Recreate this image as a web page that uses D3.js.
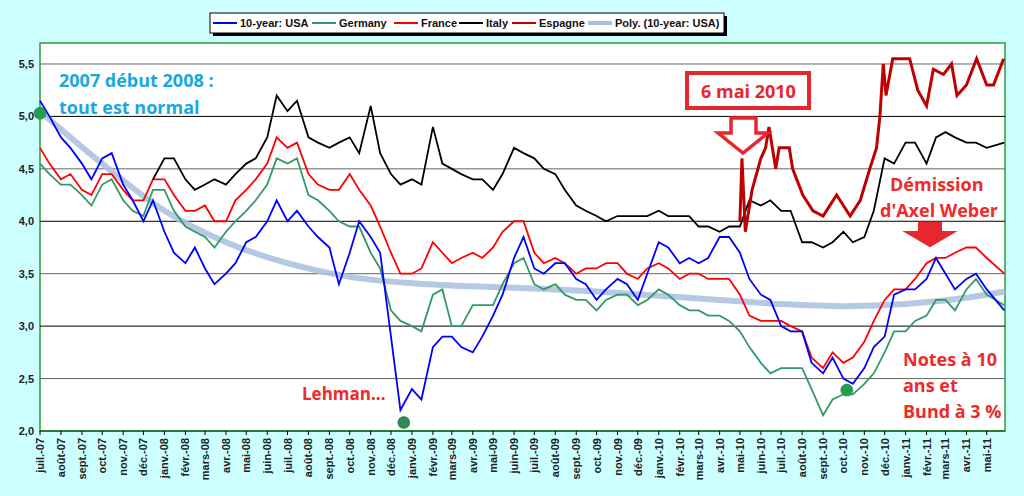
<!DOCTYPE html>
<html lang="fr">
<head>
<meta charset="utf-8" />
<script src="https://cdn.jsdelivr.net/npm/d3@7"></script>
<style>
  body { margin:0; background:#ccffff; }
  svg { display:block; }
</style>
</head>
<body>
<script>
  // DATA : taux à 10 ans, un point au 1er et au 15 de chaque mois
  var monthNames = ["janv.","févr.","mars","avr.","mai","juin","juil.","août","sept.","oct.","nov.","déc."];

  var usa = [5.15,5.0, 4.8,4.7, 4.55,4.4, 4.6,4.65, 4.35,4.2, 4.0,4.2,
    3.9,3.7, 3.6,3.75, 3.55,3.4, 3.5,3.6, 3.8,3.85, 4.0,4.2, 4.0,4.1, 3.95,3.85, 3.75,3.4, 3.7,4.0, 3.85,3.7, 2.9,2.2,
    2.4,2.3, 2.8,2.9, 2.9,2.8, 2.75,2.9, 3.1,3.3, 3.65,3.85, 3.55,3.5, 3.6,3.6, 3.45,3.4, 3.25,3.35, 3.45,3.4, 3.25,3.5,
    3.8,3.75, 3.6,3.65, 3.6,3.65, 3.85,3.85, 3.7,3.45, 3.3,3.25, 3.0,2.95, 2.95,2.65, 2.55,2.7, 2.5,2.45, 2.6,2.8, 2.9,3.3,
    3.35,3.35, 3.45,3.65, 3.5,3.35, 3.45,3.5, 3.35,3.15, 3.15];
  var germany = [4.55,4.45, 4.35,4.35, 4.25,4.15, 4.35,4.4, 4.2,4.1, 4.05,4.3,
    4.3,4.1, 3.95,3.9, 3.85,3.75, 3.9,4.0, 4.1,4.2, 4.35,4.6, 4.55,4.6, 4.25,4.2, 4.1,4.0, 3.95,3.95, 3.7,3.55, 3.15,3.05,
    3.0,2.95, 3.3,3.35, 3.0,3.0, 3.2,3.2, 3.2,3.4, 3.6,3.65, 3.4,3.35, 3.4,3.3, 3.25,3.25, 3.15,3.25, 3.3,3.3, 3.2,3.25,
    3.35,3.3, 3.2,3.15, 3.15,3.1, 3.1,3.05, 2.95,2.8, 2.65,2.55, 2.6,2.6, 2.6,2.4, 2.15,2.3, 2.35,2.35, 2.45,2.55, 2.75,2.95,
    2.95,3.05, 3.1,3.25, 3.25,3.15, 3.35,3.45, 3.3,3.2, 3.0];
  var france = [4.7,4.55, 4.4,4.45, 4.3,4.25, 4.45,4.45, 4.3,4.2, 4.2,4.4,
    4.4,4.25, 4.1,4.1, 4.15,4.0, 4.0,4.2, 4.3,4.4, 4.55,4.8, 4.7,4.75, 4.45,4.35, 4.3,4.3, 4.45,4.3, 4.15,3.95, 3.7,3.5,
    3.5,3.55, 3.8,3.7, 3.6,3.65, 3.7,3.65, 3.75,3.9, 4.0,4.0, 3.7,3.6, 3.65,3.6, 3.5,3.55, 3.55,3.6, 3.6,3.5, 3.45,3.55,
    3.6,3.55, 3.45,3.5, 3.5,3.45, 3.45,3.45, 3.3,3.1, 3.05,3.05, 3.05,3.0, 2.95,2.7, 2.6,2.75, 2.65,2.7, 2.85,3.05, 3.25,3.35,
    3.35,3.45, 3.6,3.65, 3.65,3.7, 3.75,3.75, 3.65,3.5, 3.45];
  var italy = [null,null, null,null, null,null, null,null, null,null, null,4.4,
    4.6,4.6, 4.4,4.3, 4.35,4.4, 4.35,4.45, 4.55,4.6, 4.8,5.2, 5.05,5.15, 4.8,4.75, 4.7,4.75, 4.8,4.65, 5.1,4.65, 4.45,4.35,
    4.4,4.35, 4.9,4.55, 4.5,4.45, 4.4,4.4, 4.3,4.45, 4.7,4.65, 4.6,4.5, 4.45,4.3, 4.15,4.1, 4.05,4.0, 4.05,4.05, 4.05,4.05,
    4.1,4.05, 4.05,4.05, 3.95,3.95, 3.9,3.95, 3.95,4.2, 4.15,4.2, 4.1,4.1, 3.8,3.8, 3.75,3.8, 3.9,3.8, 3.85,4.1, 4.6,4.55,
    4.75,4.75, 4.55,4.8, 4.85,4.8, 4.75,4.75, 4.7,4.75, 4.8];

  var spainDates = ["2010-05-01","2010-05-04","2010-05-09","2010-05-19","2010-06-01","2010-06-08","2010-06-13","2010-06-23",
    "2010-06-28","2010-07-13","2010-07-18","2010-08-02","2010-08-17","2010-09-01","2010-09-21","2010-10-11","2010-10-26",
    "2010-11-09","2010-11-19","2010-11-24","2010-11-29","2010-12-03","2010-12-13","2011-01-07","2011-01-19","2011-02-01",
    "2011-02-11","2011-02-26","2011-03-10","2011-03-18","2011-04-01","2011-04-16","2011-05-01","2011-05-11","2011-05-26"];
  var spain = [4.0,4.6,3.9,4.3,4.6,4.7,4.9,4.5,4.7,4.7,4.5,4.25,4.1,4.05,4.25,4.05,4.2,
    4.5,4.7,5.0,5.5,5.2,5.55,5.55,5.25,5.1,5.45,5.4,5.5,5.2,5.3,5.55,5.3,5.3,5.55];

  var polyDates = ["2007-07-01","2007-10-01","2008-01-01","2008-04-01","2008-07-01","2008-10-01","2009-01-01","2009-04-01",
    "2009-07-01","2009-10-01","2010-01-01","2010-04-01","2010-07-01","2010-10-01","2011-01-01","2011-04-01","2011-05-28"];
  var poly = [5.05,4.55,4.1,3.8,3.6,3.47,3.41,3.38,3.36,3.33,3.29,3.25,3.21,3.19,3.21,3.27,3.33];

  var seriesNames = ["10-year: USA","Germany","France","Italy","Espagne","Poly. (10-year: USA)"];
  var seriesColors = ["#0000ff","#339966","#ff0000","#000000","#c00000","#a9bfdf"];

  // dates semi-mensuelles (1er et 15)
  var dates = [];
  d3.timeMonth.range(new Date(2007,6,1), new Date(2011,5,1)).forEach(function(m){
    dates.push(m); dates.push(new Date(m.getFullYear(), m.getMonth(), 15));
  });
  dates.pop(); dates.push(new Date(2011,4,27));

  var width = 1024, height = 496;
  var pLeft = 40, pRight = 1005, pTop = 43, pBottom = 431;
  var parse = d3.timeParse("%Y-%m-%d");

  var svg = d3.select("body").append("svg").attr("width", width).attr("height", height);

  var x = d3.scaleTime().domain([new Date(2007,6,1), new Date(2011,4,28)]).range([pLeft, pRight]);
  var y = d3.scaleLinear().domain([2.0, 5.7]).range([pBottom, pTop]);

  svg.append("rect").attr("x", pLeft).attr("y", pTop).attr("width", pRight-pLeft).attr("height", pBottom-pTop)
     .attr("fill", "#fff").attr("stroke", "#2e9a3a").attr("stroke-width", 1.5);

  // grid
  var yTicks = d3.range(2.0, 5.51, 0.5);
  svg.selectAll(".grid").data(yTicks).enter().append("line")
     .attr("x1", pLeft).attr("x2", pRight).attr("y1", y).attr("y2", y)
     .attr("stroke", function(d){ return Math.round(d*2)%2===0 ? "#000" : "#666"; }).attr("stroke-width", 1);
  svg.selectAll(".ylab").data(yTicks).enter().append("text")
     .attr("x", pLeft-6).attr("y", function(d){ return y(d)+4; })
     .attr("text-anchor", "end").attr("font-family", "Arial, Liberation Sans").attr("font-weight", "bold")
     .attr("font-size", 11).attr("fill", "#222")
     .text(function(d){ return d.toFixed(1).replace(".", ","); });

  // x axis
  var months = d3.timeMonth.range(new Date(2007,6,1), new Date(2011,5,1));
  svg.append("line").attr("x1", pLeft).attr("x2", pRight).attr("y1", pBottom).attr("y2", pBottom).attr("stroke", "#2e9a3a");
  svg.selectAll(".xt").data(months).enter().append("line")
     .attr("x1", x).attr("x2", x).attr("y1", pBottom).attr("y2", pBottom+4).attr("stroke", "#000");
  svg.selectAll(".xlab").data(months).enter().append("text")
     .attr("transform", function(d){ return `translate(${x(d)+4},${pBottom+7}) rotate(-90)`; })
     .attr("text-anchor", "end").attr("font-family", "Arial, Liberation Sans").attr("font-weight", "bold")
     .attr("font-size", 11).attr("fill", "#222")
     .text(function(d){ return monthNames[d.getMonth()] + "-" + String(d.getFullYear()).slice(2); });

  var line = d3.line().defined(function(d){ return d[1]!==null; })
     .x(function(d){ return x(d[0]); }).y(function(d){ return y(d[1]); });

  function zipDates(vals){ return vals.map(function(v,i){ return [dates[i], v]; }); }

  // poly trend first (behind)
  svg.append("path").datum(polyDates.map(function(d,i){ return [parse(d), poly[i]]; }))
     .attr("d", line.curve(d3.curveMonotoneX)).attr("fill", "none")
     .attr("stroke", seriesColors[5]).attr("stroke-width", 6).attr("stroke-opacity", 0.85);
  line.curve(d3.curveLinear);

  [[germany,1], [france,2], [usa,0], [italy,3]].forEach(function(s){
    svg.append("path").datum(zipDates(s[0])).attr("d", line).attr("fill", "none")
       .attr("stroke", seriesColors[s[1]]).attr("stroke-width", 1.8);
  });
  svg.append("path").datum(spainDates.map(function(d,i){ return [parse(d), spain[i]]; }))
     .attr("d", line).attr("fill", "none").attr("stroke", seriesColors[4]).attr("stroke-width", 3);

  // markers
  var dots = [[new Date(2007,6,1), 5.03, "#1fa34a"], [new Date(2008,11,20), 2.08, "#2e8b57"], [new Date(2010,9,6), 2.39, "#1fa34a"]];
  svg.selectAll(".dot").data(dots).enter().append("circle")
     .attr("cx", function(d){ return x(d[0]); }).attr("cy", function(d){ return y(d[1]); })
     .attr("r", 6).attr("fill", function(d){ return d[2]; }).attr("stroke", "#1a5c30").attr("stroke-width", 0.5);

  // legend
  svg.append("rect").attr("x", 213).attr("y", 16).attr("width", 514).attr("height", 20).attr("fill", "#000");
  svg.append("rect").attr("x", 210).attr("y", 13).attr("width", 514).attr("height", 20).attr("fill", "#fff").attr("stroke", "#000");
  var legX = [213, 312, 394, 459, 512, 588];
  seriesNames.forEach(function(n,i){
    svg.append("line").attr("x1", legX[i]).attr("x2", legX[i]+24).attr("y1", 23).attr("y2", 23)
       .attr("stroke", seriesColors[i]).attr("stroke-width", i===5 ? 4 : 2);
    svg.append("text").attr("x", legX[i]+27).attr("y", 27).attr("font-family", "Arial, Liberation Sans")
       .attr("font-weight", "bold").attr("font-size", 11).attr("fill", "#111").text(n);
  });

  // annotations
  function note(t, xx, yy, col, size) {
    svg.append("text").attr("x", xx).attr("y", yy).attr("font-family", "Open Sans, Noto Sans")
       .attr("font-weight", "bold").attr("font-size", size||18).attr("fill", col).text(t);
  }
  note("2007 début 2008 :", 59, 87, "#1aa7e0");
  note("tout est normal", 59, 114, "#1aa7e0");
  note("Lehman...", 302, 400, "#ee2a2a", 17);
  svg.append("rect").attr("x", 687).attr("y", 73).attr("width", 122).attr("height", 35)
     .attr("fill", "#fff").attr("stroke", "#e8262e").attr("stroke-width", 4);
  note("6 mai 2010", 701, 98, "#e8262e", 18);
  note("Démission", 890, 191, "#ee2a2a");
  note("d'Axel Weber", 880, 217, "#ee2a2a");
  note("Notes à 10", 903, 366, "#ee2a2a");
  note("ans et", 903, 392, "#ee2a2a");
  note("Bund à 3 %", 903, 418, "#ee2a2a");

  // arrows
  svg.append("path").attr("d", "M731,118 L756,118 L756,133 L768,133 L743,153 L718,133 L731,133 Z")
     .attr("fill", "#fff").attr("stroke", "#e8262e").attr("stroke-width", 3.5);
  svg.append("path").attr("d", "M919,223 L941,223 L941,232 L954,232 L930,246 L906,232 L919,232 Z")
     .attr("fill", "#e8262e").attr("stroke", "#e8262e").attr("stroke-width", 2);
</script>
</body>
</html>
